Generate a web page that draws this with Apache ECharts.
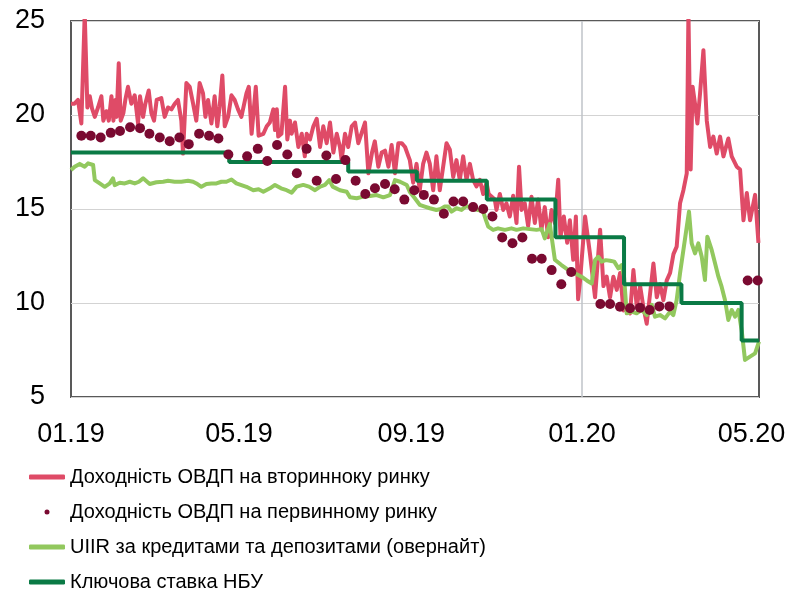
<!DOCTYPE html>
<html>
<head>
<meta charset="utf-8">
<script src="https://cdn.jsdelivr.net/npm/echarts@6/dist/echarts.min.js"></script>
<style>html,body{margin:0;padding:0;background:#fff;}#c{width:793px;height:594px;}</style>
</head>
<body>
<div id="c"></div>
<script>
// x values are days counted from 01.01.2019
const tickDays = [0, 120, 243, 365, 486];
const tickLabels = ['01.19', '05.19', '09.19', '01.20', '05.20'];
const yTicks = [5, 10, 15, 20, 25];

const seriesNames = [
  'Доходність ОВДП на вторинноку ринку',
  'Доходність ОВДП на первинному ринку',
  'UIIR за кредитами та депозитами (овернайт)',
  'Ключова ставка НБУ'
];

// secondary market yield [day, %]
const secondaryYield = [
[0,20.6],[2.5,20.6],[5,20.8],[7.4,19.55],[9.8,25.4],[11.7,20.4],[13.4,21.0],[15,20.35],[17,19.9],[19.3,20.4],
[21.7,21.0],[23.1,19.7],[25.3,20.2],[27,19.7],[28.9,21.0],[30.3,19.7],[31.7,20.8],[32.6,19.9],[34.1,22.75],[35.5,19.7],
[37.4,20.1],[38.8,20.8],[40.7,21.5],[43.1,20.6],[45.5,21.05],[47.9,19.55],[49.3,21.0],[51.5,19.9],[53.1,20.6],[55.5,21.3],
[57.4,20.1],[59.3,19.7],[61.2,20.8],[64.5,20.9],[66.9,19.9],[69.3,20.4],[71.7,20.3],[74.1,20.6],[76.4,20.8],[78.8,19.7],
[80,17.95],[82.4,21.7],[84.8,21.5],[87.2,20.6],[89.5,19.7],[91.9,21.7],[94.3,21.15],[96,19.9],[97.9,20.8],[100.3,19.55],
[102.6,21.0],[104.5,19.4],[106.2,20.45],[108.1,22.1],[109.8,19.4],[112.2,19.9],[114.6,21.05],[116.9,20.8],[119.3,20.3],[121.7,19.9],
[125.3,21.15],[127,21.5],[129,19.0],[132,21.5],[134,18.9],[137.4,19.0],[139.8,19.4],[142,19.6],[144.5,20.3],[145.7,19.2],
[147,20.3],[148,18.85],[150.3,19.0],[152.9,21.5],[154.5,18.7],[156.4,19.7],[157.6,19.0],[160,19.6],[162.4,18.3],[164.8,19.0],
[167,17.8],[168.3,19.0],[170.7,18.7],[173.1,19.4],[175.5,19.8],[177.9,18.3],[180.2,19.4],[182.6,18.5],[185,19.6],[187.4,18.0],
[189.8,19.0],[192.1,18.3],[193.3,17.6],[195.7,19.0],[198,18.3],[200.5,19.4],[202.9,19.6],[205.2,18.5],[210,19.6],[212.4,16.9],
[215,18.0],[217,18.6],[219.5,17.25],[221.9,18.0],[224.3,18.1],[226.7,17.25],[229,18.4],[231.4,16.9],[233.8,18.5],[236.2,18.5],
[238.6,18.3],[241,17.8],[242,17.6],[244.4,16.4],[246.8,17.4],[249.1,16.0],[251.5,17.4],[253.9,18.0],[256.3,17.4],[258.7,16.0],
[261,17.8],[263.4,16.0],[265.8,17.25],[268.2,18.5],[270.6,18.15],[273,16.7],[275.3,17.6],[277.7,16.55],[280.1,17.8],[282.5,16.55],
[284.9,17.4],[287.2,16.55],[289.6,16.2],[292,16.55],[294.4,15.8],[296.8,16.4],[298.3,15.8],[302.7,15.5],[303.9,14.95],[306.3,15.8],
[308.7,14.95],[311,15.3],[313.4,14.6],[315.8,15.7],[318.2,14.25],[320,17.25],[321.8,14.95],[324.1,15.3],[326.5,14.1],[328.9,15.65],
[331.3,14.25],[333.6,15.5],[336,13.9],[338.4,15.1],[340.8,13.5],[343.2,14.95],[345.6,14.25],[348,16.55],[349.6,13.5],[352,14.6],
[354.4,13.2],[356.3,14.4],[358.7,12.3],[360.6,14.6],[362.2,10.2],[363.6,11.2],[367.2,14.6],[370.7,12.6],[374.3,10.3],[377.9,13.9],
[380.3,10.9],[382.6,11.4],[385,10.3],[387.4,11.4],[389.8,10.7],[392.2,11.6],[394.6,9.6],[397,9.8],[399.3,9.45],[401.7,11.75],
[404.1,9.8],[406.5,10.9],[408.8,9.8],[411.2,8.9],[413.6,10.5],[416,12.1],[418.4,10.3],[420.7,11.0],[423.1,10.15],[425.5,11.2],
[427.9,11.6],[430.3,12.6],[432.6,13.0],[435,15.3],[437.4,16.0],[439.8,16.9],[441,25.5],[442.6,17.1],[444,21.5],[445.7,20.6],
[447.4,19.55],[449.3,21.15],[451.7,23.45],[454.1,19.7],[456.5,18.3],[458.8,18.85],[461.2,17.95],[463.6,18.85],[466,17.8],[469.5,18.75],
[471.9,17.8],[475.5,17.25],[477.9,17.1],[480.3,14.4],[482.7,15.85],[485,14.4],[488.6,15.75],[491,13.2]
];

// primary market (auction) yield [day, %]
const primaryYield = [
[7.4,18.9],[14.1,18.9],[21.2,18.8],[28.4,19.05],[35,19.15],[42.2,19.35],[49.3,19.3],[56,19.0],[63.4,18.8],[70.5,18.6],
[77.4,18.8],[84.1,18.45],[91.5,19.0],[98.6,18.9],[105.3,18.75],[112.4,17.9],[125.8,17.8],[133.4,18.2],[140.2,17.55],[147.2,18.4],
[154.5,17.9],[161.3,16.9],[168.3,18.2],[175.5,16.5],[182.4,17.85],[189.3,16.6],[196,17.6],[203.3,16.5],[210.2,15.8],[217.1,16.1],
[224.3,16.33],[231.2,16.05],[238.1,15.5],[245.2,16.0],[252,15.75],[259.2,15.5],[266.3,14.75],[273.2,15.4],[280.1,15.4],[287.2,15.1],
[294.4,15.0],[301,14.6],[308,13.48],[315.3,13.18],[322.4,13.48],[329.3,12.35],[336.2,12.35],[343.3,11.75],[350.2,11.0],[357.3,11.65],
[378.1,9.95],[385,9.95],[392.1,9.8],[399.3,9.72],[406.4,9.75],[413.3,9.63],[420.2,9.82],[427.4,9.82],[483.3,11.2],[490.5,11.2]
];

// UIIR overnight [day, %]
const uiir = [
[0,17.07],[2.6,17.25],[6.2,17.4],[9.8,17.25],[12.2,17.43],[15.8,17.34],[17,16.54],[20.5,16.36],[24.1,16.18],[27.7,16.36],
[30,16.63],[31.2,16.27],[34.8,16.4],[38.4,16.36],[42,16.45],[45.5,16.36],[48.5,16.45],[51.5,16.63],[56.2,16.33],[61,16.42],
[65.8,16.45],[69.3,16.5],[74,16.45],[78.8,16.45],[83.6,16.5],[87.2,16.45],[89.6,16.36],[93.1,16.18],[96.7,16.33],[100.3,16.36],
[103.9,16.36],[107.4,16.45],[111,16.45],[114.6,16.57],[118.1,16.36],[121.7,16.27],[125.3,16.18],[130.2,16.0],[134,16.05],[137.4,15.92],
[142.1,16.1],[145.7,16.28],[150,16.1],[154,16.0],[157.6,15.87],[161.2,16.19],[165.9,16.28],[170,16.19],[174.3,16.0],[178,16.19],
[181.4,16.28],[184.5,16.54],[186.9,16.19],[192.1,16.0],[196.9,15.92],[199.3,15.62],[204,15.57],[208.8,15.66],[213.6,15.69],[218.3,15.74],
[223.1,15.62],[227.8,15.74],[231.4,16.54],[235,16.45],[239.8,16.28],[242,15.9],[245.6,15.57],[249.1,15.22],[252.7,15.13],[256.3,15.04],
[261,14.95],[264,15.0],[267,15.13],[269.4,15.13],[271.8,14.86],[275.3,15.04],[278.9,14.95],[282.5,15.16],[286,15.04],[290.8,14.95],
[294.4,14.86],[296.3,14.42],[298,14.06],[301.5,13.89],[305,13.97],[309.9,13.89],[314.6,13.97],[318.2,13.89],[323,13.97],[327.7,13.93],
[332.5,13.89],[336,13.93],[337.2,13.71],[338.4,13.44],[342,14.2],[345.6,12.3],[350.3,12.02],[355.1,11.76],[359.9,11.58],[364.6,11.4],
[368.4,11.2],[371.9,11.04],[374.3,12.28],[376.6,12.46],[379,12.2],[382,12.28],[385,12.25],[388,12.2],[391,11.84],[393.3,12.02],
[395,11.4],[396.9,9.45],[400.5,9.54],[404,9.45],[407.6,9.63],[411.2,9.36],[414.8,9.9],[417.1,9.27],[420.7,9.36],[424.3,9.18],
[427.9,9.54],[430.2,9.36],[432.6,10.16],[435,11.58],[437.4,12.82],[439.8,14.06],[441.4,14.86],[443.3,13.17],[445.7,12.64],[448.1,13.17],
[450.5,12.46],[452.8,11.22],[454.5,13.53],[457.6,12.82],[460,12.11],[462.4,11.4],[464.7,10.87],[467.1,10.16],[469.5,9.1],[471.9,9.63],
[474.3,9.27],[476.7,9.63],[479,8.56],[481.4,6.97],[485,7.15],[488.6,7.32],[491.4,7.94]
];

// NBU key policy rate: day of change, new level
const keyRateDays = [0, 113, 198, 247, 297, 346, 395, 436, 479, 491.4];
const keyRateValues = [18, 17.5, 17, 16.5, 15.5, 13.5, 11, 10, 8, 8];

const keyRate = keyRateDays.map((d, i) => [d, keyRateValues[i]]);

const colors = ['#DF4B67', '#7A0A31', '#92C85E', '#0A7A45'];
const axisFont = {fontFamily: 'Liberation Sans, Arial, sans-serif', fontSize: 27, color: '#000'};

const chart = echarts.init(document.getElementById('c'), null, {renderer: 'canvas'});
chart.setOption({
  animation: false,
  backgroundColor: '#fff',
  grid: {left: 71, right: 34, top: 21, bottom: 197, show: true, borderColor: '#595959', borderWidth: 2, backgroundColor: 'transparent', outerBoundsMode: 'none'},
  xAxis: {
    type: 'value', min: 0, max: 491.4,
    axisLine: {show: false}, axisTick: {show: false}, splitLine: {show: false},
    axisLabel: Object.assign({
      customValues: tickDays,
      margin: 24,
      formatter: v => { const i = tickDays.indexOf(v); return i >= 0 ? tickLabels[i] : ''; }
    }, axisFont)
  },
  yAxis: {
    type: 'value', min: yTicks[0], max: yTicks[yTicks.length - 1], interval: 5,
    axisLine: {show: false}, axisTick: {show: false},
    splitLine: {show: true, lineStyle: {color: '#D3D3D3', width: 1}},
    axisLabel: Object.assign({margin: 26}, axisFont)
  },
  legend: {
    orient: 'vertical', left: 29, top: 466, padding: 0,
    itemWidth: 36, itemHeight: 5, itemGap: 13,
    textStyle: {fontFamily: 'Liberation Sans, Arial, sans-serif', fontSize: 20, color: '#000', lineHeight: 22},
    data: [
      {name: seriesNames[0], icon: 'roundRect'},
      {name: seriesNames[1], icon: 'circle'},
      {name: seriesNames[2], icon: 'roundRect'},
      {name: seriesNames[3], icon: 'roundRect'}
    ]
  },
  series: [
    {
      name: seriesNames[0], type: 'line', data: secondaryYield, color: colors[0],
      showSymbol: false, symbol: 'none', z: 2,
      lineStyle: {width: 4, color: colors[0], join: 'round'},
      markLine: {
        silent: true, symbol: 'none', z: 1, animation: false,
        label: {show: false},
        lineStyle: {color: '#BFC3C8', width: 1.5, type: 'solid'},
        data: [{xAxis: tickDays[3]}]
      }
    },
    {
      name: seriesNames[1], type: 'scatter', data: primaryYield, color: colors[1],
      symbol: 'circle', symbolSize: 10, z: 6,
      itemStyle: {color: colors[1], opacity: 1}
    },
    {
      name: seriesNames[2], type: 'line', data: uiir, color: colors[2],
      showSymbol: false, symbol: 'none', z: 3,
      lineStyle: {width: 4, color: colors[2], join: 'round'}
    },
    {
      name: seriesNames[3], type: 'line', data: keyRate, color: colors[3], step: 'end',
      showSymbol: false, symbol: 'none', z: 4,
      lineStyle: {width: 4, color: colors[3]}
    }
  ]
});
</script>
</body>
</html>
